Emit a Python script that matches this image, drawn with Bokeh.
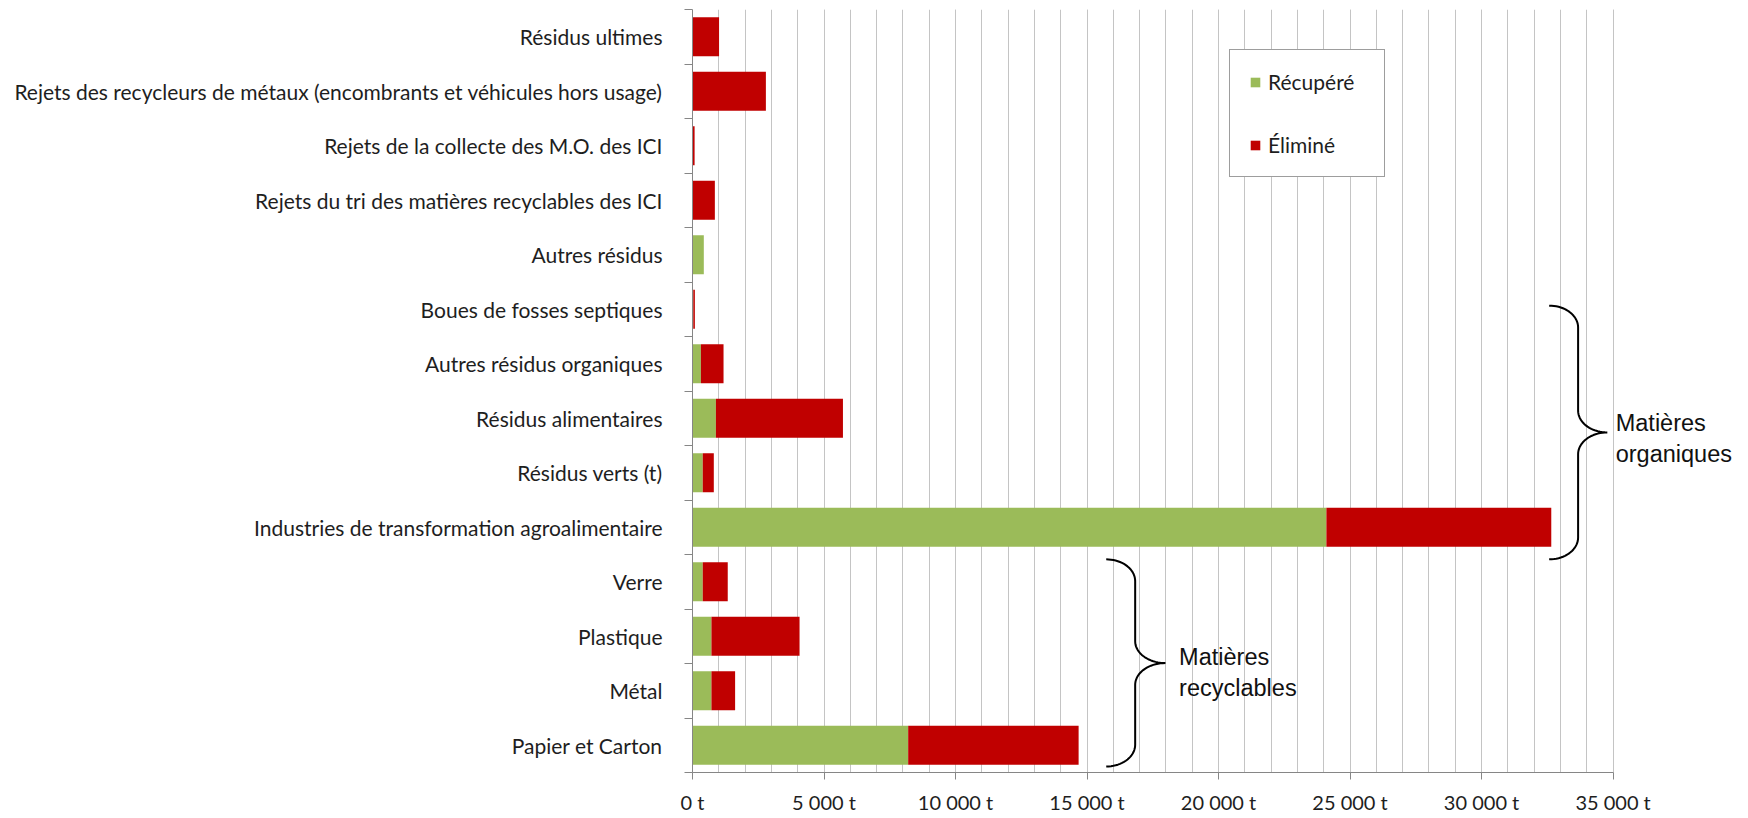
import numpy as np
from bokeh.plotting import figure
from bokeh.models import ColumnDataSource, FixedTicker, Label, Range1d
from bokeh.embed import file_html
from bokeh.resources import INLINE

# ---- data (bottom to top) ----
categories = [
    "Papier et Carton",
    "Métal",
    "Plastique",
    "Verre",
    "Industries de transformation agroalimentaire",
    "Résidus verts (t)",
    "Résidus alimentaires",
    "Autres résidus organiques",
    "Boues de fosses septiques",
    "Autres résidus",
    "Rejets du tri des matières recyclables des ICI",
    "Rejets de la collecte des M.O. des ICI",
    "Rejets des recycleurs de métaux (encombrants et véhicules hors usage)",
    "Résidus ultimes",
]
recupere = [8200, 720, 720, 390, 24100, 390, 890, 320, 30, 430, 0, 0, 0, 0]
elimine = [6480, 900, 3350, 950, 8550, 420, 4830, 860, 60, 0, 850, 80, 2790, 1010]
x_ticks = [0, 5000, 10000, 15000, 20000, 25000, 30000, 35000]
x_tick_labels = ["0 t", "5 000 t", "10 000 t", "15 000 t", "20 000 t", "25 000 t", "30 000 t", "35 000 t"]

GREEN = "#9bbb59"
RED = "#c00000"
FONT = "Lato"
ANN_FONT = "Liberation Sans"

n = len(categories)
ypos = [i + 0.5 for i in range(n)]
src = ColumnDataSource(dict(y=ypos, recupere=recupere, elimine=elimine))

AXIS_MAX = 35000
X_END = 39540  # extra room right of the axis for the annotation text

p = figure(width=1732, height=816, output_backend="svg", toolbar_location=None,
           x_range=Range1d(0, X_END), y_range=Range1d(0, n),
           min_border_left=692, min_border_right=0, min_border_top=9, min_border_bottom=40)
p.outline_line_color = None
p.background_fill_color = "white"

rs = p.hbar_stack(["recupere", "elimine"], y="y", height=0.72, source=src,
                  color=[GREEN, RED], line_color=None,
                  legend_label=["Récupéré", "Éliminé"])

# x axis
xt = FixedTicker(ticks=x_ticks, minor_ticks=list(range(0, AXIS_MAX + 1, 1000)))
p.xaxis.ticker = xt
p.xaxis.bounds = (0, AXIS_MAX)
p.xaxis.major_label_overrides = {t: s for t, s in zip(x_ticks, x_tick_labels)}
p.xaxis.axis_line_color = "#868686"
p.xaxis.major_tick_line_color = "#868686"
p.xaxis.major_tick_out = 7
p.xaxis.major_tick_in = 0
p.xaxis.minor_tick_out = 0
p.xaxis.minor_tick_in = 0
p.xaxis.major_label_standoff = 10
p.xaxis.major_label_text_font = FONT
p.xaxis.major_label_text_font_size = "20px"
p.xaxis.major_label_text_color = "#1e1e1e"

p.xgrid.ticker = xt
p.xgrid.grid_line_color = "#c4c4c4"
p.xgrid.minor_grid_line_color = "#c4c4c4"
p.ygrid.grid_line_color = None

# y axis
yt = FixedTicker(ticks=ypos, minor_ticks=list(range(0, n + 1)))
p.yaxis.ticker = yt
p.yaxis.major_label_overrides = {y: c for y, c in zip(ypos, categories)}
p.yaxis.axis_line_color = "#868686"
p.yaxis.major_tick_out = 0
p.yaxis.major_tick_in = 0
p.yaxis.minor_tick_line_color = "#868686"
p.yaxis.minor_tick_out = 8
p.yaxis.minor_tick_in = 0
p.yaxis.major_label_standoff = 22
p.yaxis.major_label_text_font = FONT
p.yaxis.major_label_text_font_size = "21px"
p.yaxis.major_label_text_color = "#1e1e1e"

# legend
lg = p.legend[0]
lg.location = (537, 595)
lg.orientation = "vertical"
lg.border_line_color = "#3c3c3c"
lg.border_line_width = 1
lg.background_fill_color = "white"
lg.background_fill_alpha = 1
lg.label_text_font = FONT
lg.label_text_font_size = "21px"
lg.label_text_color = "#1e1e1e"
lg.glyph_width = 12
lg.glyph_height = 12
lg.label_height = 25
lg.label_standoff = 7
lg.label_width = 97
lg.padding = 19
lg.spacing = 38
lg.margin = 0


# braces (decorative annotations)
def brace(x_left, x_mid, x_tip, y_top, y_bot, y_tip, ry):
    rx1 = x_mid - x_left
    rx2 = x_tip - x_mid
    xs, ys = [], []
    t = np.linspace(np.pi / 2, 0, 20)
    xs += list(x_left + rx1 * np.cos(t)); ys += list(y_top - ry + ry * np.sin(t))
    t = np.linspace(np.pi, 1.5 * np.pi, 20)
    xs += list(x_tip + rx2 * np.cos(t)); ys += list(y_tip + ry + ry * np.sin(t))
    t = np.linspace(0.5 * np.pi, np.pi, 20)
    xs += list(x_tip + rx2 * np.cos(t)); ys += list(y_tip - ry + ry * np.sin(t))
    t = np.linspace(0, -0.5 * np.pi, 20)
    xs += list(x_left + rx1 * np.cos(t)); ys += list(y_bot + ry + ry * np.sin(t))
    p.line(xs, ys, line_color="black", line_width=2)


brace(32570, 33670, 34780, 8.566, 3.911, 6.24, 0.40)
brace(15730, 16830, 17980, 3.911, 0.11, 2.008, 0.40)

for txt, x, y in [("Matières", 35100, 6.406), ("organiques", 35100, 5.84),
                  ("Matières", 18500, 2.117), ("recyclables", 18500, 1.557)]:
    p.add_layout(Label(x=x, y=y, text=txt, text_font=ANN_FONT, text_font_size="23.5px",
                       text_color="#111111", text_baseline="alphabetic", text_align="left"))

open("out.html", "w").write(file_html(p, INLINE))
